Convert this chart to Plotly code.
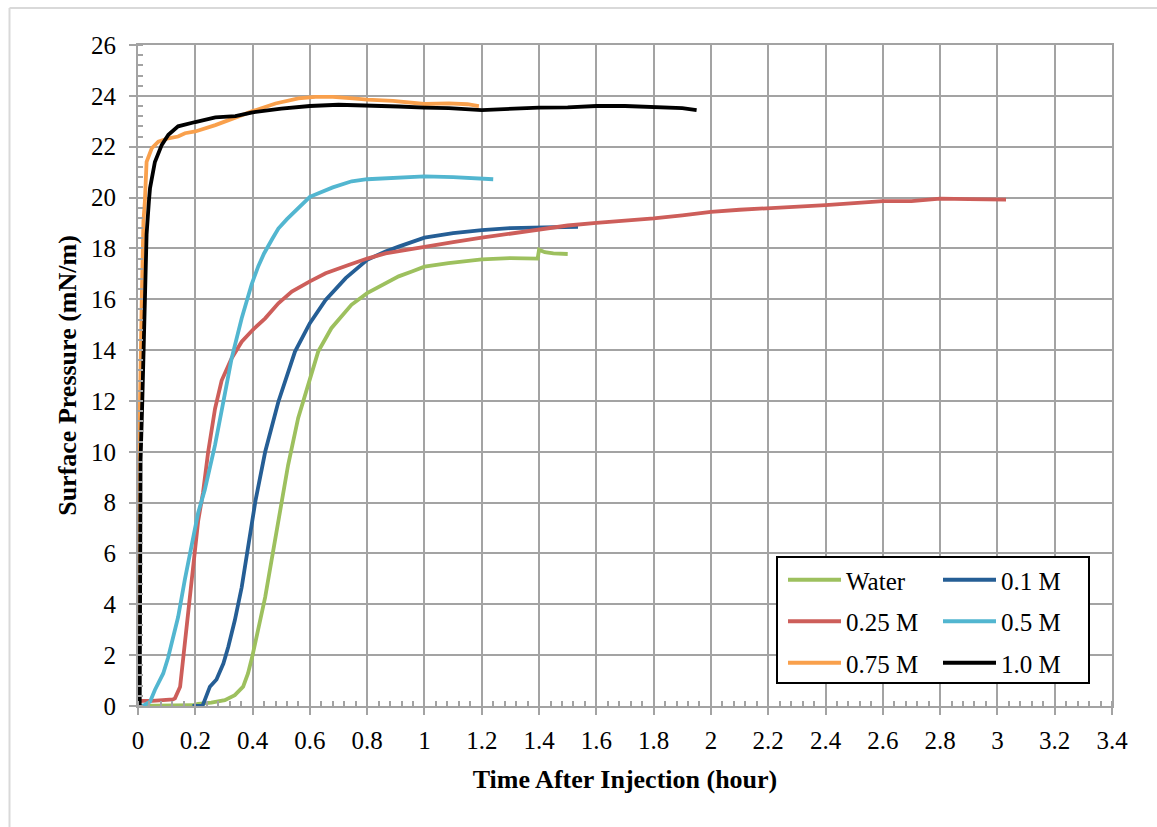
import plotly.graph_objects as go

# ---- data ----
water_t = [0, 0.1, 0.19, 0.21, 0.256, 0.303, 0.338, 0.367, 0.384, 0.4, 0.42, 0.444, 0.466, 0.49, 0.506,
           0.524, 0.559, 0.588, 0.629, 0.675, 0.745, 0.8, 0.875, 0.91, 0.956, 1.0, 1.084, 1.2, 1.3, 1.38,
           1.395, 1.40, 1.42, 1.45, 1.5]
water_p = [0, 0.0, 0.03, 0.08, 0.13, 0.23, 0.43, 0.76, 1.28, 2.0, 2.98, 4.28, 5.72, 7.28, 8.46,
           9.48, 11.32, 12.37, 13.94, 14.86, 15.78, 16.24, 16.7, 16.9, 17.09, 17.28, 17.42, 17.57, 17.62, 17.63,
           17.6, 17.95, 17.85, 17.8, 17.78]

m01_t = [0.19, 0.225, 0.233, 0.251, 0.274, 0.298, 0.315, 0.338, 0.362, 0.384, 0.41, 0.444, 0.49, 0.548,
         0.6, 0.655, 0.725, 0.8, 0.864, 0.91, 1.0, 1.1, 1.2, 1.3, 1.4, 1.5, 1.536]
m01_p = [0, 0, 0.23, 0.76, 1.04, 1.67, 2.32, 3.37, 4.67, 6.24, 8.07, 10.0, 11.97, 13.94,
         15.06, 15.97, 16.83, 17.55, 17.88, 18.07, 18.42, 18.6, 18.72, 18.8, 18.82, 18.82, 18.85]

m025_t = [0.005, 0.05, 0.122, 0.129, 0.147, 0.157, 0.175, 0.192, 0.21, 0.227, 0.245, 0.269, 0.292, 0.327,
          0.362, 0.4, 0.444, 0.49, 0.537, 0.6, 0.655, 0.735, 0.8, 0.864, 0.928, 1.0, 1.1, 1.2, 1.3, 1.4,
          1.5, 1.6, 1.7, 1.8, 1.9, 2.0, 2.1, 2.2, 2.3, 2.4, 2.5, 2.6, 2.7, 2.8, 2.9, 3.0, 3.03]
m025_p = [0.2, 0.2, 0.26, 0.3, 0.76, 1.8, 3.37, 5.33, 7.28, 8.4, 10.0, 11.7, 12.8, 13.68,
          14.33, 14.79, 15.25, 15.84, 16.3, 16.7, 17.02, 17.35, 17.6, 17.8, 17.93, 18.07, 18.25, 18.42, 18.58, 18.75,
          18.9, 19.0, 19.08, 19.18, 19.3, 19.44, 19.52, 19.57, 19.63, 19.7, 19.78, 19.86, 19.86, 19.96, 19.94, 19.92, 19.92]

m05_t = [0.0, 0.009, 0.023, 0.042, 0.059, 0.088, 0.105, 0.117, 0.14, 0.164, 0.175, 0.21, 0.233, 0.245,
         0.269, 0.298, 0.327, 0.362, 0.397, 0.42, 0.44, 0.47, 0.49, 0.52, 0.55, 0.6, 0.68, 0.746, 0.8,
         0.91, 1.0, 1.1, 1.2, 1.24]
m05_p = [0, 0, 0.04, 0.17, 0.63, 1.28, 1.9, 2.4, 3.5, 5.0, 5.6, 7.6, 8.5, 9.1,
         10.27, 11.97, 13.68, 15.25, 16.6, 17.3, 17.8, 18.4, 18.78, 19.15, 19.5, 20.03, 20.4, 20.64, 20.72,
         20.8, 20.83, 20.8, 20.74, 20.72]

m075_t = [0.0, 0.003, 0.005, 0.013, 0.019, 0.024, 0.03, 0.048, 0.071, 0.106, 0.14, 0.164, 0.2, 0.27, 0.35,
          0.4, 0.48, 0.56, 0.62, 0.68, 0.75, 0.8, 0.89, 1.0, 1.085, 1.15, 1.19]
m075_p = [0, 8, 10.7, 15.9, 19.07, 19.85, 21.4, 21.94, 22.2, 22.33, 22.4, 22.53, 22.6, 22.85, 23.2,
          23.4, 23.7, 23.9, 23.96, 23.96, 23.9, 23.85, 23.8, 23.68, 23.7, 23.67, 23.6]

m10_t = [0.006, 0.007, 0.009, 0.015, 0.022, 0.030, 0.038, 0.042, 0.059, 0.083, 0.106, 0.14, 0.2, 0.27,
         0.34, 0.4, 0.5, 0.6, 0.7, 0.8, 0.91, 1.0, 1.085, 1.2, 1.3, 1.4, 1.5, 1.6, 1.7, 1.8, 1.9, 1.95]
m10_p = [0, 5, 9.7, 12, 15.9, 18.55, 19.85, 20.37, 21.4, 22.07, 22.47, 22.8, 22.97, 23.15,
         23.2, 23.35, 23.5, 23.6, 23.65, 23.63, 23.58, 23.54, 23.52, 23.44, 23.5, 23.54, 23.55, 23.6, 23.6, 23.57, 23.52, 23.44]

series = [
    ("Water", water_t, water_p, "#9DC05E", "legend"),
    ("0.1 M", m01_t, m01_p, "#255E95", "legend2"),
    ("0.25 M", m025_t, m025_p, "#CD5E5A", "legend"),
    ("0.5 M", m05_t, m05_p, "#52B6D0", "legend2"),
    ("0.75 M", m075_t, m075_p, "#F9A04C", "legend"),
    ("1.0 M", m10_t, m10_p, "#000000", "legend2"),
]

FONT = "Liberation Serif"
GRID = "#A3A3A3"

fig = go.Figure()
for name, t, p, col, leg in series:
    fig.add_trace(go.Scatter(x=t, y=p, mode="lines", name=name, legend=leg, legendgroup=name,
                             line=dict(color=col, width=3.8)))

W, H = 1157, 827
L, R, T, B = 138, 45, 45, 121
pw, ph = W - L - R, H - T - B

def px2paper_x(px):
    return (px - L) / pw

def px2paper_y(py):
    return (H - B - py) / ph

axis_common = dict(showgrid=True, gridcolor=GRID, gridwidth=2, showline=True, linecolor=GRID,
                   linewidth=2, mirror=True, zeroline=False, ticks="outside", ticklen=7,
                   tickcolor=GRID, tickwidth=1.5,
                   tickfont=dict(family=FONT, size=25, color="black"))

fig.update_xaxes(range=[0, 3.4], dtick=0.2, tick0=0, ticklabelstandoff=4,
                 minor=dict(dtick=0.04, ticks="inside", ticklen=5, tickcolor=GRID, tickwidth=1.5, showgrid=False),
                 title=dict(text="<b>Time After Injection (hour)</b>", font=dict(family=FONT, size=26, color="black"),
                            standoff=17),
                 **axis_common)
fig.update_yaxes(range=[0, 26], dtick=2, tick0=0, ticklabelstandoff=8,
                 minor=dict(dtick=0.4, ticks="inside", ticklen=5, tickcolor=GRID, tickwidth=1.5, showgrid=False),
                 title=dict(text="<b>Surface Pressure (mN/m)</b>", font=dict(family=FONT, size=26, color="black"),
                            standoff=7),
                 **axis_common)

legend_common = dict(font=dict(family=FONT, size=25, color="black"), bgcolor="rgba(0,0,0,0)",
                     borderwidth=0, tracegroupgap=6, itemwidth=53, yanchor="top", xanchor="left",
                     orientation="v")
fig.update_layout(
    width=W, height=H,
    margin=dict(l=L, r=R, t=T, b=B, autoexpand=False),
    paper_bgcolor="white", plot_bgcolor="white",
    showlegend=True,
    legend=dict(x=px2paper_x(783), y=px2paper_y(557), **legend_common),
    legend2=dict(x=px2paper_x(938), y=px2paper_y(557), **legend_common),
    shapes=[
        dict(type="rect", xref="paper", yref="paper",
             x0=px2paper_x(777), x1=px2paper_x(1089), y0=px2paper_y(683), y1=px2paper_y(557),
             line=dict(color="black", width=2), fillcolor="white", layer="above"),
        dict(type="line", xref="paper", yref="paper",
             x0=px2paper_x(9.5), x1=px2paper_x(9.5), y0=px2paper_y(8), y1=px2paper_y(830),
             line=dict(color="#D9D9D9", width=2)),
        dict(type="line", xref="paper", yref="paper",
             x0=px2paper_x(9.5), x1=px2paper_x(1160), y0=px2paper_y(8), y1=px2paper_y(8),
             line=dict(color="#D9D9D9", width=2)),
    ],
)

fig.write_html("out.html")
